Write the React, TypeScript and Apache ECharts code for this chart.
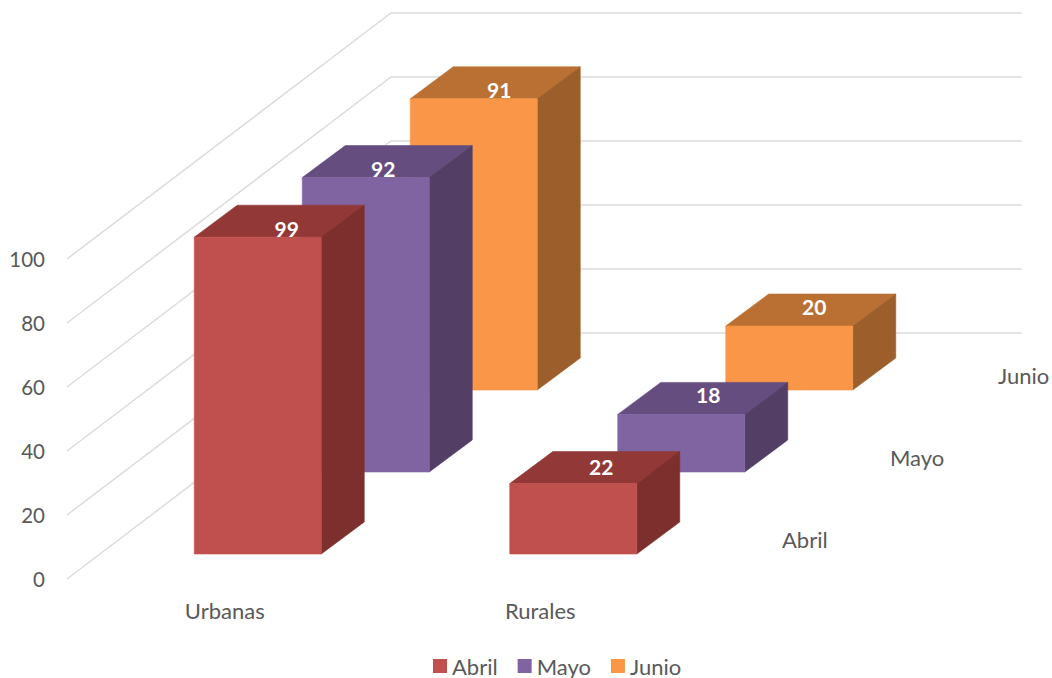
import React, { useEffect, useRef } from "react";
import * as echarts from "echarts";

const categories = ["Urbanas", "Rurales"];
const seriesNames = ["Abril", "Mayo", "Junio"];
const abril = [99, 22];
const mayo = [92, 18];
const junio = [91, 20];
const yTicks = [0, 20, 40, 60, 80, 100];

const FONT = "Lato, 'Open Sans', sans-serif";
const TEXT = "#595959";
const LINE = "#dcdcdc";

// Oblique projection of the chart's depth axis, in pixels
const ROW = { dx: 108, dy: -82 };
const FLOOR = { dx: 33, dy: -25 };
const BAR = { w: 127, dx: 43, dy: -32 };
const DEPTH_ROWS = 3;

const palettes = [
  { front: "#C0504D", top: "#923937", side: "#7D2F2E" },
  { front: "#8064A2", top: "#654D80", side: "#533F66" },
  { front: "#F99647", top: "#BA7033", side: "#9C5F2B" },
];
// Hand placement of value labels relative to the bar's top-front centre
const labelNudge = [
  [[29, -9], [28, -17]],
  [[17.5, -9], [27, -20]],
  [[25.5, -9], [25, -20]],
];

function barSeries(name: string, values: number[], row: number) {
  const pal = palettes[row];
  return {
    type: "custom",
    name,
    z: 10 - row,
    silent: true,
    clip: false,
    itemStyle: { color: pal.front },
    encode: { x: 0, y: 1 },
    data: values.map((v, i) => [i, v]),
    renderItem: (_p: any, api: any) => {
      const cat = api.value(0);
      const val = api.value(1);
      const base = api.coord([cat, 0]);
      const topPt = api.coord([cat, val]);
      const cx = base[0] + FLOOR.dx + ROW.dx * row;
      const shiftY = FLOOR.dy + ROW.dy * row;
      const y0 = base[1] + shiftY;
      const y1 = topPt[1] + shiftY;
      const l = cx - BAR.w / 2;
      const r = cx + BAR.w / 2;
      const [nx, ny] = labelNudge[row][cat];
      const poly = (points: number[][], fill: string) => ({
        type: "polygon",
        shape: { points },
        style: { fill, stroke: fill, lineWidth: 0.6, lineJoin: "round" },
      });
      return {
        type: "group",
        children: [
          poly([[l, y1], [r, y1], [r + BAR.dx, y1 + BAR.dy], [l + BAR.dx, y1 + BAR.dy]], pal.top),
          poly([[r, y1], [r + BAR.dx, y1 + BAR.dy], [r + BAR.dx, y0 + BAR.dy], [r, y0]], pal.side),
          poly([[l, y1], [r, y1], [r, y0], [l, y0]], pal.front),
          {
            type: "text",
            style: {
              x: cx + nx,
              y: y1 + ny,
              text: String(val),
              fill: "#ffffff",
              font: `bold 21px ${FONT}`,
              align: "center",
              verticalAlign: "middle",
            },
          },
        ],
      };
    },
  };
}

const option: any = {
  animation: false,
  backgroundColor: "#ffffff",
  textStyle: { fontFamily: FONT },
  grid: { left: 67, top: 259, width: 631, height: 320 },
  xAxis: {
    type: "category",
    data: categories,
    axisLine: { show: false },
    axisTick: { show: false },
    axisLabel: { color: TEXT, fontSize: 22, fontFamily: FONT, margin: 20 },
    splitLine: { show: false },
  },
  yAxis: {
    type: "value",
    min: 0,
    max: 100,
    interval: 20,
    axisLine: { show: false },
    axisTick: { show: false },
    axisLabel: { color: TEXT, fontSize: 20.5, fontFamily: FONT, margin: 22 },
    splitLine: { show: false },
  },
  legend: {
    data: seriesNames,
    left: 428,
    top: 650,
    icon: "rect",
    itemWidth: 14,
    itemHeight: 14,
    itemGap: 20,
    selectedMode: false,
    textStyle: { color: TEXT, fontSize: 22, fontFamily: FONT },
  },
  series: [
    {
      type: "custom",
      name: "walls",
      z: 1,
      silent: true,
      clip: false,
      encode: { y: 0 },
      data: yTicks.map((v) => [v]),
      renderItem: (_p: any, api: any) => {
        const v = api.value(0);
        const start = api.coord([0, v]);
        const band = api.size([1, 0])[0];
        const fx = start[0] - band / 2;
        const bx = fx + ROW.dx * DEPTH_ROWS;
        const by = start[1] + ROW.dy * DEPTH_ROWS;
        return {
          type: "polyline",
          shape: { points: [[fx, start[1]], [bx, by], [bx + band * 2, by]] },
          style: { stroke: LINE, lineWidth: 1.5, fill: null },
        };
      },
    },
    {
      type: "custom",
      name: "depthAxis",
      z: 2,
      silent: true,
      clip: false,
      encode: { y: 0 },
      data: seriesNames.map((_, i) => [i]),
      renderItem: (_p: any, api: any) => {
        const row = api.value(0);
        const end = api.coord([1, 0]);
        const band = api.size([1, 0])[0];
        return {
          type: "text",
          style: {
            x: end[0] + band / 2 + FLOOR.dx + ROW.dx * row + 51,
            y: end[1] + FLOOR.dy + ROW.dy * row - 15,
            text: seriesNames[row],
            fill: TEXT,
            font: `22px ${FONT}`,
            align: "left",
            verticalAlign: "middle",
          },
        };
      },
    },
    barSeries("Abril", abril, 0),
    barSeries("Mayo", mayo, 1),
    barSeries("Junio", junio, 2),
  ],
};

export default function App() {
  const ref = useRef<HTMLDivElement>(null);
  useEffect(() => {
    const chart = echarts.init(ref.current!, undefined, { renderer: "svg" });
    chart.setOption(option);
    return () => chart.dispose();
  }, []);
  return (
    <div
      ref={ref}
      style={{ position: "fixed", left: 0, top: 0, width: 1052, height: 678 }}
    />
  );
}
